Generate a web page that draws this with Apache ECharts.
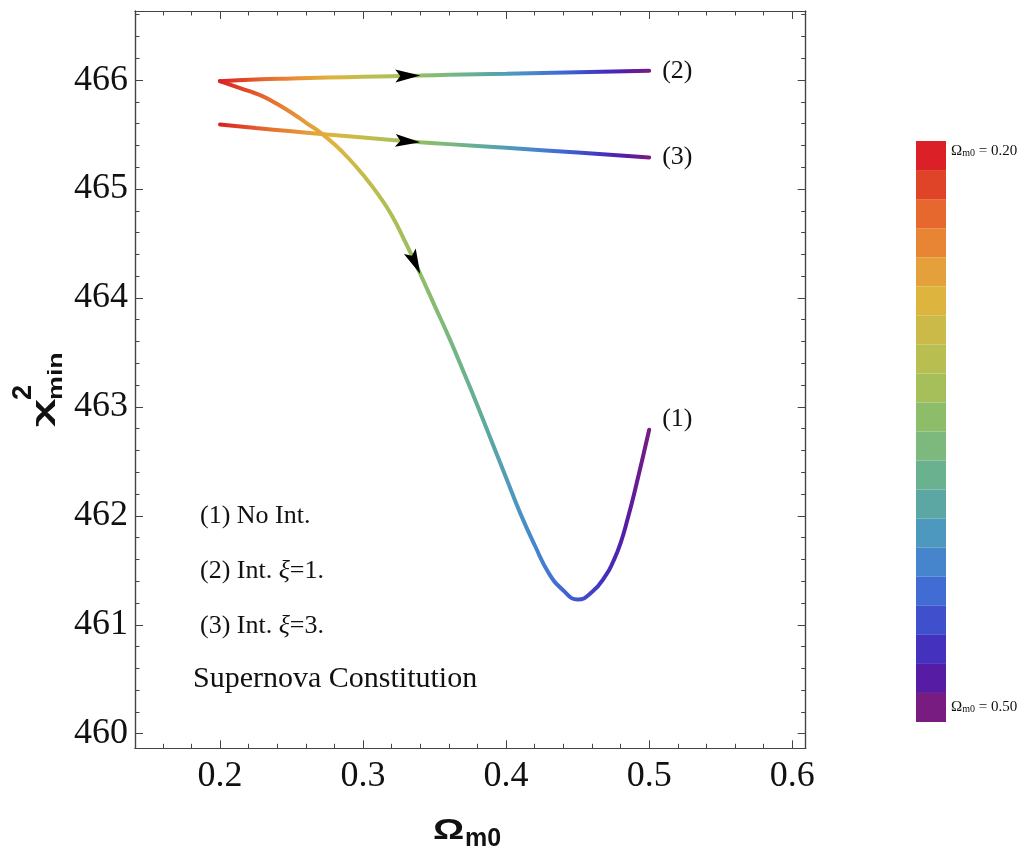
<!DOCTYPE html>
<html>
<head>
<meta charset="utf-8">
<script src="https://cdn.jsdelivr.net/npm/echarts@6/dist/echarts.min.js"></script>
<style>html,body{margin:0;padding:0;background:#fff}#c{width:1030px;height:852px}</style>
</head>
<body>
<div id="c"></div>
<script>
// ---- data ----
const curveNames = ['(1)', '(2)', '(3)'];
const omega1 = [0.20, 0.21, 0.22, 0.23, 0.24, 0.25, 0.26, 0.27, 0.28, 0.29, 0.30, 0.31, 0.32, 0.33, 0.34, 0.35, 0.36, 0.37, 0.38, 0.39, 0.40, 0.41, 0.42, 0.43, 0.44, 0.45, 0.46, 0.47, 0.475, 0.48, 0.485, 0.49, 0.50];
const chi1   = [465.99, 465.945, 465.90, 465.85, 465.78, 465.70, 465.61, 465.52, 465.41, 465.28, 465.13, 464.96, 464.76, 464.50, 464.22, 463.93, 463.64, 463.33, 463.01, 462.68, 462.35, 462.02, 461.73, 461.47, 461.315, 461.232, 461.30, 461.46, 461.585, 461.75, 461.975, 462.23, 462.79];
const omega2 = [0.200, 0.225, 0.250, 0.275, 0.300, 0.320, 0.340, 0.360, 0.400, 0.450, 0.500];
const chi2   = [465.99, 466.005, 466.015, 466.023, 466.03, 466.036, 466.042, 466.048, 466.058, 466.072, 466.085];
const omega3 = [0.200, 0.225, 0.250, 0.275, 0.300, 0.320, 0.340, 0.360, 0.400, 0.450, 0.500];
const chi3   = [465.593, 465.56, 465.53, 465.50, 465.472, 465.45, 465.43, 465.412, 465.378, 465.335, 465.29];
const arrowAt = [0.340, 0.340, 0.340];   // Ω_m0 where each arrowhead sits
const colorMin = 0.20, colorMax = 0.50;
const xMajorTicks = [0.2, 0.3, 0.4, 0.5, 0.6];
const xMinorTicks = [0.16, 0.18, 0.22, 0.24, 0.26, 0.28, 0.32, 0.34, 0.36, 0.38, 0.42, 0.44, 0.46, 0.48, 0.52, 0.54, 0.56, 0.58];
const yMajorTicks = [460, 461, 462, 463, 464, 465, 466];
const yMinorTicks = [460.2, 460.4, 460.6, 460.8, 461.2, 461.4, 461.6, 461.8, 462.2, 462.4, 462.6, 462.8, 463.2, 463.4, 463.6, 463.8, 464.2, 464.4, 464.6, 464.8, 465.2, 465.4, 465.6, 465.8, 466.2, 466.4, 466.6];
const notes = ['(1) No Int.', '(2) Int. ξ=1.', '(3) Int. ξ=3.', 'Supernova Constitution'];

// ---- styles ----
const palette = ['#DB2127', '#E04428', '#E6682F', '#E88535', '#E4A03A', '#DDB43E', '#CBBA47', '#B9BE51', '#A7BF5A', '#8EBD6A',
                 '#7DB97C', '#6AB18F', '#5CA6A4', '#4D98BE', '#4685CC', '#416CD4', '#4050CC', '#4431BD', '#561CA4', '#781C81'];
const X_MIN = 0.1406, X_MAX = 0.6094, Y_MIN = 459.866, Y_MAX = 466.634;
const serif = "'Liberation Serif', 'Times New Roman', serif";
const sans = "'Liberation Sans', Arial, sans-serif";
const axisColor = '#444';

const zip = (a, b) => a.map((v, i) => [v, b[i]]);
const curves = [zip(omega1, chi1), zip(omega2, chi2), zip(omega3, chi3)];

const arrowData = curves.map((pts, k) => {
  const i = pts.findIndex(p => Math.abs(p[0] - arrowAt[k]) < 1e-9);
  const a = pts[i - 1], b = pts[i + 1], t = pts[i];
  return [t[0], t[1], a[0], a[1], b[0], b[1]];
});

function makeAxis(kind, pos, major, labels) {
  const isX = kind === 'x';
  return {
    type: 'value', position: pos,
    min: isX ? X_MIN : Y_MIN, max: isX ? X_MAX : Y_MAX,
    splitLine: { show: false },
    axisLine: { show: true, onZero: false, lineStyle: { color: axisColor, width: 1.2 } },
    axisTick: { show: true, inside: true, length: major ? 8 : 4.5, lineStyle: { color: axisColor, width: 1 },
                customValues: isX ? (major ? xMajorTicks : xMinorTicks) : (major ? yMajorTicks : yMinorTicks) },
    axisLabel: labels ? {
      show: true, customValues: isX ? xMajorTicks : yMajorTicks,
      fontFamily: serif, fontSize: 36, color: '#111', margin: isX ? 10 : 7,
      formatter: v => isX ? v.toFixed(1) : String(Math.round(v))
    } : { show: false }
  };
}

const chart = echarts.init(document.getElementById('c'), null, { renderer: 'canvas' });

const lineSeries = curves.map((d, k) => ({
  type: 'line', name: curveNames[k], data: d, xAxisIndex: 0, yAxisIndex: 0,
  showSymbol: false, smooth: 0.5, lineStyle: { width: 4, cap: 'round' },
  z: 3,
  endLabel: { show: true, formatter: curveNames[k], fontFamily: serif, fontSize: 26, color: '#111',
              distance: 13, offset: k === 0 ? [0, -11] : [0, 0] }
}));

const txt = (t, size, extra) => Object.assign({ text: t, font: `${size}px ${serif}`, fill: '#111', verticalAlign: 'middle' }, extra || {});

const option = {
  animation: false,
  backgroundColor: '#fff',
  grid: { left: 135, right: 224.3, top: 11, bottom: 103.7, containLabel: false },
  xAxis: [makeAxis('x', 'bottom', true, true), makeAxis('x', 'bottom', false, false),
          makeAxis('x', 'top', true, false), makeAxis('x', 'top', false, false)],
  yAxis: [makeAxis('y', 'left', true, true), makeAxis('y', 'left', false, false),
          makeAxis('y', 'right', true, false), makeAxis('y', 'right', false, false)],
  visualMap: [
    { type: 'continuous', show: false, dimension: 0, seriesIndex: [0, 1, 2],
      min: colorMin, max: colorMax, inRange: { color: palette } },
    { type: 'piecewise', show: true, seriesIndex: [4], dimension: 0, orient: 'vertical', inverse: true,
      left: 916, top: 141, padding: 0, itemWidth: 30, itemHeight: 29.05, itemGap: 0, itemSymbol: 'rect',
      showLabel: false, selectedMode: false, hoverLink: false,
      pieces: palette.map((c, i) => ({ min: colorMin + i * (colorMax - colorMin) / palette.length,
                                       max: colorMin + (i + 1) * (colorMax - colorMin) / palette.length, color: c })),
      textStyle: { fontSize: 0 } }
  ],
  series: [
    ...lineSeries,
    { type: 'custom', xAxisIndex: 0, yAxisIndex: 0, data: arrowData, z: 5,
      renderItem(params, api) {
        const p = api.coord([api.value(0), api.value(1)]);
        const a = api.coord([api.value(2), api.value(3)]);
        const b = api.coord([api.value(4), api.value(5)]);
        const ang = Math.atan2(b[1] - a[1], b[0] - a[0]);
        const L = 25, W = 13;
        return { type: 'polygon', x: p[0], y: p[1], rotation: -ang,
                 shape: { points: [[0, 0], [-L, -W / 2], [-L * 0.8, 0], [-L, W / 2]] },
                 style: { fill: '#000' } };
      } },
    { type: 'line', data: [], xAxisIndex: 0, yAxisIndex: 0 }
  ],
  graphic: [
    { type: 'text', x: 200, y: 516, style: txt(notes[0], 26) },
    { type: 'text', x: 200, y: 571, style: { rich: { n: { font: `26px ${serif}`, fill: '#111' }, i: { font: `italic 26px ${serif}`, fill: '#111' } },
        text: '{n|(2) Int. }{i|ξ}{n|=1.}', verticalAlign: 'middle' } },
    { type: 'text', x: 200, y: 626, style: { rich: { n: { font: `26px ${serif}`, fill: '#111' }, i: { font: `italic 26px ${serif}`, fill: '#111' } },
        text: '{n|(3) Int. }{i|ξ}{n|=3.}', verticalAlign: 'middle' } },
    { type: 'text', x: 193, y: 679, style: txt(notes[3], 30) },
    // x-axis title Ω_m0
    { type: 'text', x: 433, y: 831, scaleX: 1.3, style: { text: 'Ω', font: `bold 30px ${sans}`, fill: '#111', verticalAlign: 'middle' } },
    { type: 'text', x: 465, y: 839, style: { text: 'm0', font: `bold 25px ${sans}`, fill: '#111', verticalAlign: 'middle' } },
    // y-axis title χ²_min (rotated, reads bottom to top)
    { type: 'text', x: 43, y: 427, rotation: Math.PI / 2, scaleX: 1.9, style: { text: 'χ', font: `bold 26px ${sans}`, fill: '#111', verticalAlign: 'middle' } },
    { type: 'text', x: 24, y: 400, rotation: Math.PI / 2, style: { text: '2', font: `bold 27px ${sans}`, fill: '#111', verticalAlign: 'middle' } },
    { type: 'text', x: 56, y: 400, rotation: Math.PI / 2, scaleX: 1.28, style: { text: 'min', font: `bold 21px ${sans}`, fill: '#111', verticalAlign: 'middle' } },
    // colour bar labels
    { type: 'text', x: 951, y: 151, style: { rich: { a: { font: `15px ${serif}`, fill: '#111' }, s: { font: `10px ${serif}`, fill: '#111', verticalAlign: 'bottom' } },
        text: '{a|Ω}{s|m0}{a| = 0.20}', verticalAlign: 'middle' } },
    { type: 'text', x: 951, y: 707, style: { rich: { a: { font: `15px ${serif}`, fill: '#111' }, s: { font: `10px ${serif}`, fill: '#111', verticalAlign: 'bottom' } },
        text: '{a|Ω}{s|m0}{a| = 0.50}', verticalAlign: 'middle' } }
  ]
};
chart.setOption(option);
</script>
</body>
</html>
